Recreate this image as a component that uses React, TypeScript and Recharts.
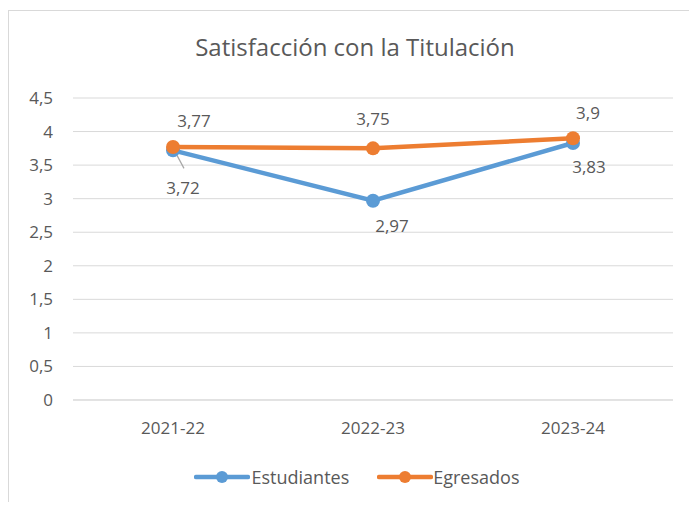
import { LineChart, Line, XAxis, YAxis, CartesianGrid, Legend, LabelList } from "recharts";

const categories = ["2021-22", "2022-23", "2023-24"];
const estudiantes = [3.72, 2.97, 3.83];
const egresados = [3.77, 3.75, 3.9];
const yTicks = [0, 0.5, 1, 1.5, 2, 2.5, 3, 3.5, 4, 4.5];

const data = categories.map((c, i) => ({ name: c, estudiantes: estudiantes[i], egresados: egresados[i] }));

const FONT = "'Open Sans', sans-serif";
const TEXT = "#595959";
const BLUE = "#5b9bd5";
const ORANGE = "#ed7d31";

const fmt = (v: number) => String(v).replace(".", ",");

// label offsets (from point) as placed in the original
const estOffsets = [
  { dx: 10, dy: 37 },
  { dx: 19, dy: 25 },
  { dx: 16, dy: 24 },
];
const egrOffsets = [
  { dx: 21, dy: -26 },
  { dx: 0, dy: -30 },
  { dx: 15, dy: -26 },
];

const makeLabel = (offsets: { dx: number; dy: number }[], leader: boolean) => (props: any) => {
  const { x, y, value, index } = props;
  const o = offsets[index] || { dx: 0, dy: 0 };
  return (
    <g>
      {leader && index === 0 && (
        <line x1={x + 4} y1={y + 5} x2={x + 11} y2={y + 18} stroke="#a6a6a6" strokeWidth={1.2} />
      )}
      <text
        x={x + o.dx}
        y={y + o.dy}
        textAnchor="middle"
        dominantBaseline="central"
        fill={TEXT}
        fontSize={17}
        fontFamily={FONT}
      >
        {fmt(value)}
      </text>
    </g>
  );
};

const LegendIcon = ({ color }: { color: string }) => (
  <svg width={56} height={16} style={{ display: "block" }}>
    <line x1={2} y1={8} x2={54} y2={8} stroke={color} strokeWidth={4.5} strokeLinecap="round" />
    <circle cx={28} cy={8} r={6} fill={color} />
  </svg>
);

const renderLegend = () => (
  <div
    style={{
      display: "flex",
      justifyContent: "center",
      alignItems: "center",
      height: 30,
      paddingLeft: 6,
      fontFamily: FONT,
      fontSize: 18,
      color: TEXT,
    }}
  >
    <LegendIcon color={BLUE} />
    <span style={{ marginLeft: 2, marginRight: 28 }}>Estudiantes</span>
    <LegendIcon color={ORANGE} />
    <span>Egresados</span>
  </div>
);

export default function App() {
  return (
    <div style={{ width: 689, height: 494, overflow: "hidden", paddingTop: 2, boxSizing: "border-box" }}>
      <div
        style={{
          position: "relative",
          width: 700,
          height: 510,
          border: "1px solid #d9d9d9",
          background: "#fff",
        }}
      >
        <div
          style={{
            position: "absolute",
            left: 0,
            width: 692,
            top: 19,
            textAlign: "center",
            fontFamily: FONT,
            fontSize: 24,
            color: TEXT,
          }}
        >
          Satisfacción con la Titulación
        </div>
        <LineChart width={689} height={490} data={data} margin={{ top: 87, right: 25, bottom: 9, left: 24 }}>
          <CartesianGrid vertical={false} stroke="#d9d9d9" />
          <XAxis
            dataKey="name"
            height={62}
            padding={{ left: 100, right: 100 }}
            tickLine={false}
            axisLine={{ stroke: "#d9d9d9" }}
            tickMargin={16}
            tick={{ fill: TEXT, fontSize: 17, fontFamily: FONT }}
          />
          <YAxis
            width={40}
            domain={[0, 4.5]}
            ticks={yTicks}
            interval={0}
            tickLine={false}
            axisLine={false}
            tickMargin={14}
            tickFormatter={fmt}
            tick={{ fill: TEXT, fontSize: 17, fontFamily: FONT }}
          />
          <Legend verticalAlign="bottom" height={30} content={renderLegend} wrapperStyle={{ left: 0, width: 689 }} />
          <Line
            dataKey="estudiantes"
            name="Estudiantes"
            stroke={BLUE}
            strokeWidth={4.5}
            dot={{ r: 7, fill: BLUE, stroke: BLUE, strokeWidth: 0 }}
            activeDot={false}
            isAnimationActive={false}
          >
            <LabelList dataKey="estudiantes" content={makeLabel(estOffsets, true)} />
          </Line>
          <Line
            dataKey="egresados"
            name="Egresados"
            stroke={ORANGE}
            strokeWidth={4.5}
            dot={{ r: 7, fill: ORANGE, stroke: ORANGE, strokeWidth: 0 }}
            activeDot={false}
            isAnimationActive={false}
          >
            <LabelList dataKey="egresados" content={makeLabel(egrOffsets, false)} />
          </Line>
        </LineChart>
      </div>
    </div>
  );
}
